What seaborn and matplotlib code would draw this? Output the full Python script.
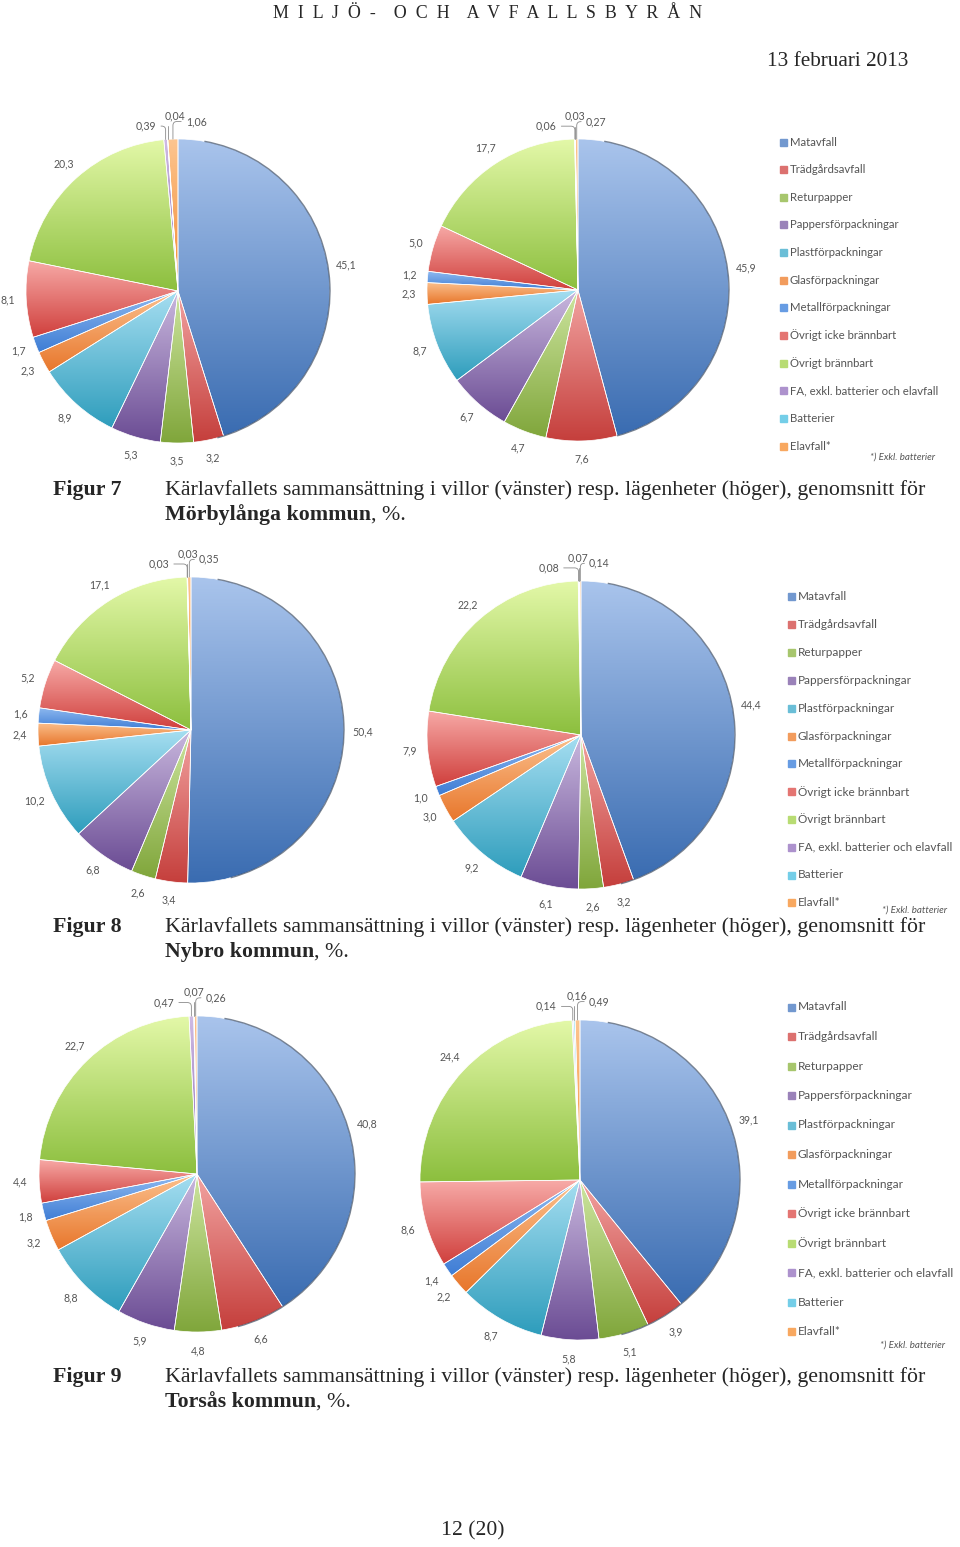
import numpy as np
import matplotlib
matplotlib.use("Agg")
import matplotlib.pyplot as plt
from matplotlib.patches import Arc
import seaborn as sns

categories = ["Matavfall", "Trädgårdsavfall", "Returpapper", "Pappersförpackningar",
              "Plastförpackningar", "Glasförpackningar", "Metallförpackningar",
              "Övrigt icke brännbart", "Övrigt brännbart",
              "FA, exkl. batterier och elavfall", "Batterier", "Elavfall*"]

# light (top of slice) / dark (bottom of slice) shades, Excel 2010 style
light = ["#a9c4ec", "#f2a3a1", "#cde59f", "#c9b8de", "#a6def1", "#fbc08d",
         "#8fbaf0", "#f7aaa7", "#e3f8a8", "#cfbbe4", "#aae6f6", "#fcc590"]
dark = ["#3a6cb1", "#c53f3c", "#80a63b", "#6b4c94", "#2e9dbc", "#e8772c",
        "#3f7dd5", "#d0403d", "#8cbf3e", "#8a69b5", "#3db5da", "#f38a2f"]

morbylanga_villor = [45.1, 3.2, 3.5, 5.3, 8.9, 2.3, 1.7, 8.1, 20.3, 0.39, 0.04, 1.06]
morbylanga_lgh = [45.9, 7.6, 4.7, 6.7, 8.7, 2.3, 1.2, 5.0, 17.7, 0.06, 0.03, 0.27]
nybro_villor = [50.4, 3.4, 2.6, 6.8, 10.2, 2.4, 1.6, 5.2, 17.1, 0.03, 0.03, 0.35]
nybro_lgh = [44.4, 3.2, 2.6, 6.1, 9.2, 3.0, 1.0, 7.9, 22.2, 0.08, 0.07, 0.14]
torsas_villor = [40.8, 6.6, 4.8, 5.9, 8.8, 3.2, 1.8, 4.4, 22.7, 0.47, 0.07, 0.26]
torsas_lgh = [39.1, 3.9, 5.1, 5.8, 8.7, 2.2, 1.4, 8.6, 24.4, 0.14, 0.16, 0.49]

caption_text = "Kärlavfallets sammansättning i villor (vänster) resp. lägenheter (höger), genomsnitt för"

sns.set_theme(style="white")
plt.rcParams["font.family"] = ["Lato", "DejaVu Sans"]

cmaps = [sns.blend_palette([d, l], as_cmap=True) for l, d in zip(light, dark)]
mid_colors = [sns.blend_palette([d, l], 3)[1] for l, d in zip(light, dark)]

W, H = 960, 1547
fig = plt.figure(figsize=(W / 100, H / 100), dpi=100)
fig.patch.set_facecolor("white")
SERIF = ["Liberation Serif", "DejaVu Serif"]
LBL = "#555555"
CAP = 15.75


def fx(x):
    return x / W


def fy(y):
    return 1 - y / H


def fmt(v):
    if abs(v * 10 - round(v * 10)) > 1e-6:
        return f"{v:.2f}".replace(".", ",")
    return f"{v:.1f}".replace(".", ",")


def draw_pie(values, cx, cy, r):
    pad = 1.35
    ax = fig.add_axes([fx(cx - pad * r), fy(cy + pad * r), 2 * pad * r / W, 2 * pad * r / H])
    wedges, _ = ax.pie(values, startangle=90, counterclock=False, radius=1,
                       colors=mid_colors,
                       wedgeprops=dict(edgecolor="white", linewidth=0.5))
    grad = np.linspace(0, 1, 128).reshape(-1, 1)
    for w, cm in zip(wedges, cmaps):
        b = w.get_path().get_extents()
        img = ax.imshow(grad, cmap=cm, origin="lower", aspect="auto",
                        extent=(b.x0, b.x1, b.y0, b.y1), zorder=1)
        img.set_clip_path(w)
        w.set_facecolor("none")
        w.set_zorder(2)
    # dark rim on the right-hand side (Excel 3D look)
    ax.add_patch(Arc((0, 0), 2.0, 2.0, theta1=-75, theta2=80, color="#26364d",
                     lw=1.0, alpha=0.6, zorder=3))
    ax.set_xlim(-pad, pad)
    ax.set_ylim(-pad, pad)
    ax.set_aspect("equal")
    ax.axis("off")

    # value labels
    cluster = [(-0.21, 1.085), (-0.02, 1.15), (0.12, 1.115)]
    for i, (v, w) in enumerate(zip(values, wedges)):
        mid = np.deg2rad((w.theta1 + w.theta2) / 2)
        if i < 9:
            ax.text(1.12 * np.cos(mid), 1.12 * np.sin(mid), fmt(v), ha="center",
                    va="center", fontsize=7.6, color=LBL)
        else:
            tx, ty = cluster[i - 9]
            ax.annotate(fmt(v), xy=(np.cos(mid), np.sin(mid)), xytext=(tx, ty),
                        ha="center", va="center", fontsize=7.6, color=LBL,
                        arrowprops=dict(arrowstyle="-", color="#8a8a8a", lw=0.6,
                                        shrinkA=1, shrinkB=0,
                                        connectionstyle="angle,angleA=0,angleB=90,rad=4"))
    return ax


def draw_legend(x, y0, step, note_y, note_x, size):
    for i, (name, c) in enumerate(zip(categories, mid_colors)):
        y = y0 + i * step
        fig.patches.append(plt.Rectangle((fx(x), fy(y) - 3.5 / H), 7 / W, 7 / H,
                                         transform=fig.transFigure, color=c))
        fig.text(fx(x + 10), fy(y), name, fontsize=size, color=LBL, va="center")
    fig.text(fx(note_x), fy(note_y), "*) Exkl. batterier", fontsize=7,
             style="italic", color=LBL, ha="right", va="center")


def caption(num, place, y):
    fig.text(fx(53), fy(y), f"Figur {num}", family=SERIF, fontweight="bold",
             fontsize=CAP, va="center")
    fig.text(fx(165), fy(y), caption_text, family=SERIF, fontsize=CAP, va="center")
    t = fig.text(fx(165), fy(y + 25), f"{place} kommun", family=SERIF,
                 fontweight="bold", fontsize=CAP, va="center")
    bb = t.get_window_extent(renderer=fig.canvas.get_renderer())
    fig.text(bb.x1 / W, fy(y + 25), ", %.", family=SERIF, fontsize=CAP, va="center")


# header / footer
fig.text(fx(488), fy(13), "M  I  L  J  Ö  -    O  C  H    A  V  F  A  L  L  S  B  Y  R  Å  N",
         family=SERIF, fontsize=12.9, ha="center", va="center")
fig.text(fx(908), fy(61), "13 februari 2013", family=SERIF, fontsize=15.3,
         ha="right", va="center")
fig.text(fx(473), fy(1531), "12 (20)", family=SERIF, fontsize=15.6,
         ha="center", va="center")

# Figur 7
draw_pie(morbylanga_villor, 178, 291, 152)
draw_pie(morbylanga_lgh, 578, 290, 151)
draw_legend(780, 142, 27.64, 457, 935, 8.2)
caption(7, "Mörbylånga", 490)

# Figur 8
draw_pie(nybro_villor, 191, 730, 153)
draw_pie(nybro_lgh, 581, 735, 154)
draw_legend(788, 597, 27.8, 910, 947, 8.5)
caption(8, "Nybro", 927)

# Figur 9
draw_pie(torsas_villor, 197, 1174, 158)
draw_pie(torsas_lgh, 580, 1180, 160)
draw_legend(788, 1007, 29.5, 1345, 945, 8.6)
caption(9, "Torsås", 1377)

fig.savefig("out.png", dpi=100, facecolor="white")
